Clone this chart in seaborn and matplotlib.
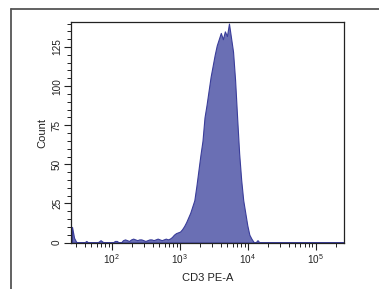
import numpy as np
import pandas as pd
import seaborn as sns
import matplotlib
matplotlib.use("Agg")
import matplotlib.pyplot as plt
from matplotlib.lines import Line2D
from matplotlib.ticker import MultipleLocator, LogLocator, FixedLocator

# ---- data ----
# histogram bins in log10(CD3 PE-A) units
bin_start = 1.40
bin_step = 0.03
counts_low = [10, 3, 0.5, 0, 0, 0, 0, 1, 0, 0, 0, 0, 0, 0.5, 1.5, 0.5, 0, 0, 0, 0, 0, 1, 1, 0, 0]
counts_mid = [1.5, 2, 1.5, 1, 2, 2.5, 2, 1.5, 2, 2, 1.5, 1, 1.5, 2, 2, 1.5, 2, 2.5, 2, 1.5, 2, 2.5, 2]
counts_peak = [2.5, 3.5, 5, 6, 6.5, 7, 8.5, 10.5, 13, 16, 19, 23,
               27, 36, 46, 56, 65, 80, 88, 97, 106, 113, 120, 126, 130, 134, 130, 135, 132, 140,
               131, 122, 104, 80, 57, 40, 27, 19, 11, 5, 2.5, 0.5, 0, 1.5, 0]
counts = np.array(counts_low + counts_mid + counts_peak + [0] * 41, dtype=float)
n_bins = len(counts)
edges = [bin_start + bin_step * k for k in range(n_bins + 1)]
centers = [(edges[k] + edges[k + 1]) / 2 for k in range(n_bins)]

df = pd.DataFrame({"CD3 PE-A": np.power(10.0, centers), "Count": counts})

x_major = [1e2, 1e3, 1e4, 1e5]
y_major = [0, 25, 50, 75, 100, 125]
x_max = 262143

# ---- style ----
sns.set_style("white")
plt.rcParams["font.family"] = ["Liberation Sans", "DejaVu Sans"]
plt.rcParams["mathtext.default"] = "regular"

fig = plt.figure(figsize=(3.79, 2.89), dpi=100)
ax = fig.add_axes([71 / 379, 1 - 243 / 289, (344 - 71) / 379, (243 - 22) / 289])

sns.histplot(data=df, x="CD3 PE-A", weights="Count", bins=edges, log_scale=True,
             element="poly", fill=True, color="#6a6fb4", alpha=1.0,
             edgecolor="#3a3d9a", linewidth=0.8, ax=ax)

ax.set_xlim(10 ** bin_start, x_max)
ax.set_ylim(-0.3, 141)

ax.xaxis.set_major_locator(FixedLocator(x_major))
ax.xaxis.set_minor_locator(LogLocator(base=10, subs=np.arange(2, 10)))
ax.yaxis.set_major_locator(FixedLocator(y_major))
ax.yaxis.set_minor_locator(MultipleLocator(5))

ax.tick_params(axis="both", which="major", direction="out", length=5, width=0.8,
               labelsize=7.2, colors="#222222", pad=1.5)
ax.tick_params(axis="both", which="minor", direction="out", length=3, width=0.7,
               colors="#222222")
ax.tick_params(axis="x", which="both", bottom=True)
ax.tick_params(axis="y", which="both", left=True)
for lab in ax.get_yticklabels():
    lab.set_rotation(90)
    lab.set_va("center")

ax.set_xlabel("CD3 PE-A", fontsize=8, color="#222222", labelpad=5)
ax.set_ylabel("Count", fontsize=8, color="#222222", labelpad=3)

for s in ax.spines.values():
    s.set_visible(True)
    s.set_color("#222222")
    s.set_linewidth(0.9)

# outer frame (top and left edges visible)
fig.add_artist(Line2D([11 / 379, 1.0], [1 - 9 / 289, 1 - 9 / 289], transform=fig.transFigure,
                      color="#555555", linewidth=1.3))
fig.add_artist(Line2D([11 / 379, 11 / 379], [0.0, 1 - 9 / 289], transform=fig.transFigure,
                      color="#555555", linewidth=1.3))

fig.savefig("out.png", dpi=100)
